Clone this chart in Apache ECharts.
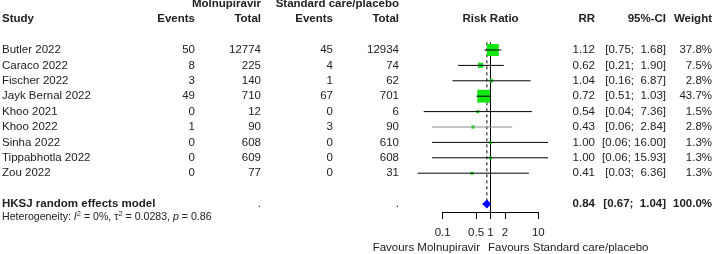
<!DOCTYPE html>
<html>
<head>
<meta charset="utf-8">
<script src="https://cdn.jsdelivr.net/npm/echarts@6/dist/echarts.min.js"></script>
<style>
  html, body { margin: 0; padding: 0; background: #fff; }
  #chart { width: 713px; height: 254px; }
</style>
</head>
<body>
<div id="chart"></div>
<script>
// 数据
const studies = ["Butler 2022", "Caraco 2022", "Fischer 2022", "Jayk Bernal 2022", "Khoo 2021",
                 "Khoo 2022", "Sinha 2022", "Tippabhotla 2022", "Zou 2022"];
const molEvents = [50, 8, 3, 49, 0, 1, 0, 0, 0];
const molTotal = [12774, 225, 140, 710, 12, 90, 608, 609, 77];
const ctlEvents = [45, 4, 1, 67, 0, 3, 0, 0, 0];
const ctlTotal = [12934, 74, 62, 701, 6, 90, 610, 608, 31];
const rr = [1.12, 0.62, 1.04, 0.72, 0.54, 0.43, 1.00, 1.00, 0.41];
const lower = [0.75, 0.21, 0.16, 0.51, 0.04, 0.06, 0.06, 0.06, 0.03];
const upper = [1.68, 1.90, 6.87, 1.03, 7.36, 2.84, 16.00, 15.93, 6.36];
const weight = [37.8, 7.5, 2.8, 43.7, 1.5, 2.8, 1.3, 1.3, 1.3];
const pooledRR = 0.84;
const pooledLower = 0.67;
const pooledUpper = 1.04;
const pooledWeight = 100.0;
const axisTicks = [0.1, 0.5, 1, 2, 10];

// 布局
const FONT = "'Liberation Sans', Arial, sans-serif";
const FS = 11.5;
const TXT = "#222";
const rowStep = 15.4, row0 = 50, axisY = 212;
const yMin = -row0 / rowStep;
const yMax = yMin + axisY / rowStep;
const summaryRow = 10;
const rows = studies.map((s, i) => i);

let chart = echarts.init(document.getElementById("chart"));

function fmtCI(lo, up) {
    const u = up.toFixed(2);
    return "[" + lo.toFixed(2) + ";" + (up < 10 ? "  " : " ") + u + "]";
}

// 文本列（custom text）
function textCol(x, rowList, texts, align, bold) {
    return {
        type: "custom", xAxisIndex: 0, yAxisIndex: 0, silent: true,
        data: rowList.map(r => [x, r]),
        renderItem: function (params, api) {
            const p = api.coord([api.value(0), api.value(1)]);
            return {
                type: "text", x: p[0], y: p[1],
                style: {
                    text: texts[params.dataIndex],
                    textAlign: align, textVerticalAlign: "middle",
                    font: (bold ? "bold " : "") + FS + "px " + FONT,
                    fill: TXT
                }
            };
        }
    };
}

let series = [
    // 表头
    textCol(261, [-3], ["Molnupiravir"], "right", true),
    textCol(399, [-3], ["Standard care/placebo"], "right", true),
    textCol(2, [-2], ["Study"], "left", true),
    textCol(195, [-2], ["Events"], "right", true),
    textCol(261, [-2], ["Total"], "right", true),
    textCol(333, [-2], ["Events"], "right", true),
    textCol(399, [-2], ["Total"], "right", true),
    textCol(490.5, [-2], ["Risk Ratio"], "center", true),
    textCol(595, [-2], ["RR"], "right", true),
    textCol(666, [-2], ["95%-CI"], "right", true),
    textCol(712, [-2], ["Weight"], "right", true),
    // 研究行
    textCol(2, rows, studies, "left", false),
    textCol(195, rows, molEvents.map(String), "right", false),
    textCol(261, rows, molTotal.map(String), "right", false),
    textCol(333, rows, ctlEvents.map(String), "right", false),
    textCol(399, rows, ctlTotal.map(String), "right", false),
    textCol(595, rows, rr.map(v => v.toFixed(2)), "right", false),
    textCol(666, rows, rr.map((v, i) => fmtCI(lower[i], upper[i])), "right", false),
    textCol(712, rows, weight.map(v => v.toFixed(1) + "%"), "right", false),
    // 汇总行
    textCol(2, [summaryRow], ["HKSJ random effects model"], "left", true),
    textCol(261, [summaryRow], ["."], "right", false),
    textCol(399, [summaryRow], ["."], "right", false),
    textCol(595, [summaryRow], [pooledRR.toFixed(2)], "right", true),
    textCol(666, [summaryRow], [fmtCI(pooledLower, pooledUpper)], "right", true),
    textCol(712, [summaryRow], [pooledWeight.toFixed(1) + "%"], "right", true),
    textCol(480, [12.84], ["Favours Molnupiravir"], "right", false),
    textCol(488, [12.84], ["Favours Standard care/placebo"], "left", false),
    // 异质性
    {
        type: "custom", xAxisIndex: 0, yAxisIndex: 0, silent: true,
        data: [[2, 10.82]],
        renderItem: function (params, api) {
            const p = api.coord([api.value(0), api.value(1)]);
            const base = { fontSize: 10.6, fontFamily: FONT, fill: TXT };
            return {
                type: "text", x: p[0], y: p[1],
                style: {
                    text: "{n|Heterogeneity: }{i|I}{s|2}{n| = 0%, τ}{s|2}{n| = 0.0283, }{i|p}{n| = 0.86}",
                    textAlign: "left", textVerticalAlign: "middle",
                    rich: {
                        n: base,
                        i: Object.assign({}, base, { fontStyle: "italic" }),
                        s: Object.assign({}, base, { fontSize: 7.5, verticalAlign: "top", padding: [0, 0, 5, 0] })
                    }
                }
            };
        }
    },
    // 参考线：RR = 1（实线）与合并效应（虚线）
    {
        type: "custom", xAxisIndex: 1, yAxisIndex: 1, silent: true,
        data: [[1, 0], [pooledRR, 1]],
        renderItem: function (params, api) {
            const x = api.coord([api.value(0), 0])[0];
            const top = api.coord([1, -0.5])[1];
            const dashed = api.value(1) === 1;
            const bottom = dashed ? api.coord([1, summaryRow])[1] : axisY;
            return {
                type: "line", z2: 1,
                shape: { x1: x, y1: top, x2: x, y2: bottom },
                style: { stroke: "#000", lineWidth: 1, lineDash: dashed ? [3, 3] : null }
            };
        }
    },
    // 各研究的方块与置信区间
    {
        type: "custom", xAxisIndex: 1, yAxisIndex: 1, silent: true, clip: false, z: 3,
        data: rows.map(i => [rr[i], lower[i], upper[i], weight[i], i]),
        renderItem: function (params, api) {
            const y = api.coord([1, api.value(4)])[1];
            const xc = api.coord([api.value(0), 0])[0];
            const xl = api.coord([api.value(1), 0])[0];
            const xu = api.coord([api.value(2), 0])[0];
            const side = Math.max(3, 1.95 * Math.sqrt(api.value(3)));
            const grey = studies[params.dataIndex] === "Khoo 2022";
            return {
                type: "group",
                children: [
                    { type: "rect", shape: { x: xc - side / 2, y: y - side / 2, width: side, height: side },
                      style: { fill: "#14e614" } },
                    { type: "line", shape: { x1: xl, y1: y, x2: xu, y2: y },
                      style: { stroke: grey ? "#8c8c8c" : "#000", lineWidth: 1 } }
                ]
            };
        }
    },
    // 汇总菱形
    {
        type: "custom", xAxisIndex: 1, yAxisIndex: 1, silent: true, clip: false, z: 4,
        data: [[pooledRR, pooledLower, pooledUpper, summaryRow]],
        renderItem: function (params, api) {
            const y = api.coord([1, api.value(3)])[1];
            const xc = api.coord([api.value(0), 0])[0];
            const xl = api.coord([api.value(1), 0])[0];
            const xu = api.coord([api.value(2), 0])[0];
            return {
                type: "polygon",
                shape: { points: [[xl, y], [xc, y - 4.5], [xu, y], [xc, y + 4.5]] },
                style: { fill: "#0000ff" }
            };
        }
    }
];

let option = {
    animation: false,
    backgroundColor: "#fff",
    grid: [
        { left: 0, right: 0, top: 0, height: axisY },
        { left: 442.7, width: 95.6, top: 0, height: axisY }
    ],
    xAxis: [
        { type: "value", gridIndex: 0, min: 0, max: 713, show: false },
        {
            type: "log", gridIndex: 1, logBase: 10, min: 0.1, max: 10, position: "bottom",
            axisLine: { show: true, onZero: false, lineStyle: { color: "#000", width: 1 } },
            axisTick: { show: true, inside: false, customValues: axisTicks, length: 7, lineStyle: { color: "#000" } },
            axisLabel: {
                show: true, customValues: axisTicks, margin: 15,
                color: TXT, fontSize: FS, fontFamily: FONT,
                formatter: v => String(v)
            },
            splitLine: { show: false },
            minorTick: { show: false }
        }
    ],
    yAxis: [
        { type: "value", gridIndex: 0, inverse: true, min: yMin, max: yMax, show: false },
        { type: "value", gridIndex: 1, inverse: true, min: yMin, max: yMax, show: false }
    ],
    series: series
};

chart.setOption(option);
</script>
</body>
</html>
